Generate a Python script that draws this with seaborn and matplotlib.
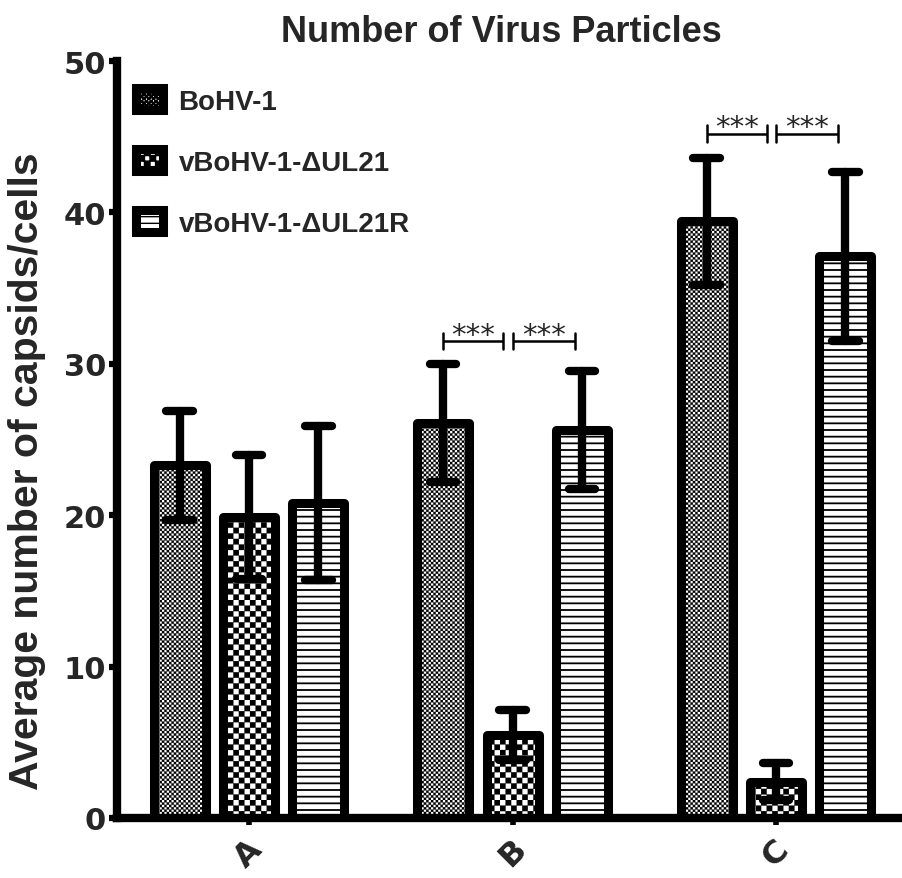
import numpy as np
import pandas as pd
import matplotlib
matplotlib.use('Agg')
import matplotlib.pyplot as plt
import matplotlib.hatch as mhatch
from matplotlib.path import Path
from matplotlib.patches import Patch
import seaborn as sns

# ---------------- data ----------------
categories = ['A', 'B', 'C']
groups = ['BoHV-1', 'vBoHV-1-\u0394UL21', 'vBoHV-1-\u0394UL21R']
bohv1_mean = [23.3, 26.1, 39.4]
bohv1_err = [3.6, 3.9, 4.2]
dul21_mean = [19.9, 5.5, 2.4]
dul21_err = [4.1, 1.65, 1.2]
dul21r_mean = [20.8, 25.6, 37.1]
dul21r_err = [5.1, 3.9, 5.6]
sig_categories = ['B', 'C']
sig_heights = [31.5, 45.2]
sig_label = '***'
yticks = [0, 10, 20, 30, 40, 50]
title = 'Number of Virus Particles'
ylabel = 'Average number of capsids/cells'

means = [bohv1_mean, dul21_mean, dul21r_mean]
errs = [bohv1_err, dul21_err, dul21r_err]


# ---------------- custom hatches (checkerboard / horizontal lines) ----------------
class CheckerHatch(mhatch.HatchPatternBase):
    def __init__(self, hatch, density):
        n = hatch.count('o')
        self.n = n
        self.cells = [(r, c) for r in range(n) for c in range(n) if (r + c) % 2 == 0]
        self.num_vertices = 5 * len(self.cells)

    def set_vertices_and_codes(self, vertices, codes):
        s = 1.0 / self.n
        i = 0
        for r, c in self.cells:
            x0, y0 = c * s, r * s
            vertices[i:i + 5] = [(x0, y0), (x0 + s, y0), (x0 + s, y0 + s),
                                 (x0, y0 + s), (x0, y0)]
            codes[i:i + 5] = [Path.MOVETO, Path.LINETO, Path.LINETO,
                              Path.LINETO, Path.CLOSEPOLY]
            i += 5


class HLineHatch(mhatch.HorizontalHatch):
    def __init__(self, hatch, density):
        self.num_lines = hatch.count('-') + hatch.count('+')
        self.num_vertices = self.num_lines * 2


new_types = []
for t in mhatch._hatch_types:
    if t is mhatch.SmallCircles:
        new_types.append(CheckerHatch)
    elif t is mhatch.HorizontalHatch:
        new_types.append(HLineHatch)
    else:
        new_types.append(t)
mhatch._hatch_types = new_types

hatches = ['o' * 42, 'o' * 18, '-' * 15]
hatch_lws = [0.1, 0.15, 1.3]

# ---------------- style ----------------
sns.set_style('ticks')
plt.rcParams['font.family'] = ['Liberation Sans', 'DejaVu Sans']
plt.rcParams['hatch.linewidth'] = 1.0
plt.rcParams['hatch.color'] = 'black'

df = pd.DataFrame({
    'category': categories * 3,
    'group': sum([[g] * len(categories) for g in groups], []),
    'mean': sum(means, []),
})

fig = plt.figure(figsize=(9.02, 8.79), dpi=100)
ax = fig.add_axes([117 / 902, 60 / 879, 785 / 902, 757 / 879])

sns.barplot(data=df, x='category', y='mean', hue='group', hue_order=groups,
            order=categories, palette=['white'] * 3, saturation=1,
            width=0.79, gap=0.25, edgecolor='black', linewidth=6.5,
            errorbar=None, legend=False, ax=ax)

containers = [c for c in ax.containers][:3]
for ci, cont in enumerate(containers):
    for bar in cont:
        bar.set_hatch(hatches[ci])
        bar.set_joinstyle('round')
        if hasattr(bar, 'set_hatch_linewidth'):
            bar.set_hatch_linewidth(hatch_lws[ci])
        bar.set_zorder(2)

# error bars
for ci, cont in enumerate(containers):
    xs = np.array([b.get_x() + b.get_width() / 2 for b in cont])
    m = np.array(means[ci])
    e = np.array(errs[ci])
    vl = ax.vlines(xs, m - e, m + e, colors='black', linewidth=6, zorder=4)
    vl.set_capstyle('round')
    for yy in (m + e, m - e):
        hl = ax.hlines(yy, xs - 0.05, xs + 0.05, colors='black', linewidth=6, zorder=4)
        hl.set_capstyle('round')

# significance brackets
bar_x = [[b.get_x() + b.get_width() / 2 for b in cont] for cont in containers]
for cat, yb in zip(sig_categories, sig_heights):
    k = categories.index(cat)
    x1, x2, x3 = bar_x[0][k], bar_x[1][k], bar_x[2][k]
    spans = [(x1, x2 - 0.035), (x2, x3 - 0.027)]
    for a, b in spans:
        ax.plot([a, b], [yb, yb], color='black', lw=1.8, zorder=5, solid_capstyle='butt')
        for xx in (a, b):
            ax.plot([xx, xx], [yb - 0.55, yb + 0.55], color='black', lw=1.8, zorder=5,
                    solid_capstyle='round')
        ax.text((a + b) / 2, yb - 0.1, sig_label, ha='center', va='baseline',
                fontsize=21, family='DejaVu Sans', zorder=5)

# axes styling
ax.set_ylim(0, 50)
ax.set_xlim(-0.501, 2.478)
ax.set_yticks(yticks)
ax.set_yticklabels([str(t) for t in yticks], family='DejaVu Sans', weight='bold', fontsize=22)
ax.set_xticks(range(len(categories)))
ax.set_xticklabels(categories, rotation=45, ha='center', family='DejaVu Sans',
                   weight='bold', fontsize=23)
ax.tick_params(axis='y', length=6, width=4.5, pad=2, color='black', direction='out')
ax.tick_params(axis='x', length=5, width=4, pad=6, color='black', direction='out')
for side in ['top', 'right']:
    ax.spines[side].set_visible(False)
for side in ['left', 'bottom']:
    ax.spines[side].set_linewidth(6)
    ax.spines[side].set_color('black')
    ax.spines[side].set_capstyle('projecting')
ax.set_xlabel('')
ax.set_ylabel(ylabel, fontsize=29.5, weight='bold')
ax.yaxis.set_label_coords(-0.09, 0.46)

# legend
handles = []
for h, hl in zip(hatches, hatch_lws):
    p = Patch(facecolor='white', edgecolor='black', linewidth=6.5, hatch=h, joinstyle='round')
    if hasattr(p, 'set_hatch_linewidth'):
        p.set_hatch_linewidth(hl)
    handles.append(p)
ax.legend(handles, groups, loc='upper left', bbox_to_anchor=(0.0236, 0.964),
          frameon=False, handlelength=1.0, handleheight=0.8, handletextpad=0.55,
          labelspacing=1.25, borderpad=0, borderaxespad=0,
          prop={'weight': 'bold', 'size': 20, 'family': 'Liberation Sans'})

fig.text(0.556, 1 - 42 / 879, title, ha='center', va='baseline', fontsize=26, weight='bold')

fig.savefig('out.png', dpi=100, facecolor='white')
